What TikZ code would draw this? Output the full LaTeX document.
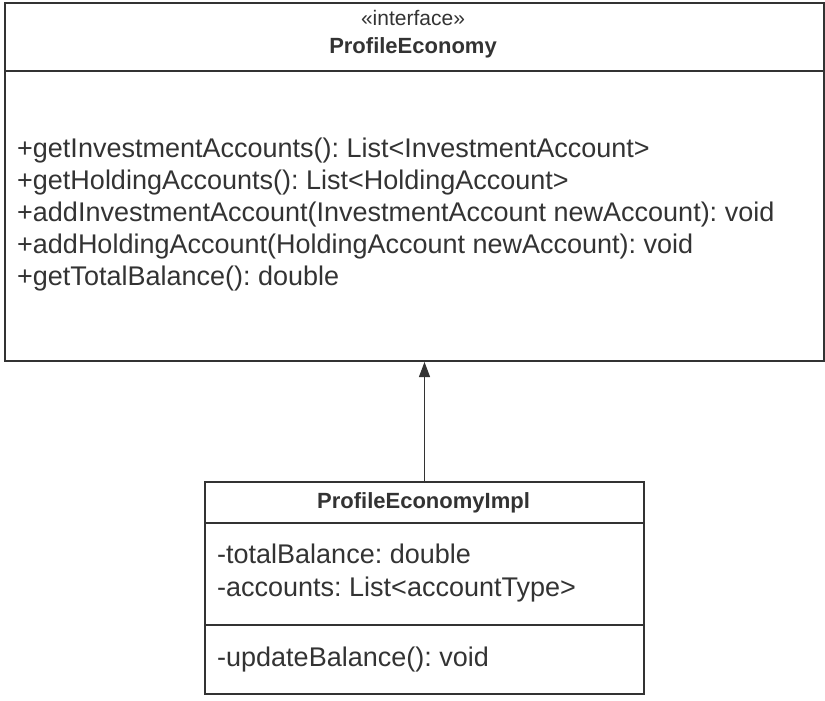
\documentclass[tikz,border=0pt]{standalone}
\usepackage{fontspec}
\setmainfont{Liberation Sans}
\usepackage{xcolor}
\usetikzlibrary{arrows.meta}
\frenchspacing

\definecolor{umlgray}{rgb}{0.2,0.2,0.2}

\begin{document}
\begin{tikzpicture}[x=1pt,y=1pt,yscale=-1,
    umlbox/.style={draw=umlgray,line width=2,inner sep=0,anchor=north west},
    member/.style={anchor=base west,inner sep=0,text=umlgray,font=\fontsize{27}{32}\selectfont},
    title/.style={anchor=base,inner sep=0,text=umlgray,font=\fontsize{22}{26}\selectfont}]
    \useasboundingbox (0,0) rectangle (825,701);

    %Shape: Rectangle [id:iface]
    \node [umlbox,minimum width=819,minimum height=358] (iface) at (4,2) {};
    \draw [color=umlgray,line width=2] (4,71) -- (823,71) ;
    %Shape: Rectangle [id:impl]
    \node [umlbox,minimum width=439,minimum height=212] (impl) at (204,481) {};
    \draw [color=umlgray,line width=2] (204,523) -- (643,523) ;
    \draw [color=umlgray,line width=2] (204,625) -- (643,625) ;

    %Straight Lines [id:realize]
    \draw [color=umlgray,line width=1,-{Triangle[length=15,width=11]}] (impl.north) -- (impl.north |- iface.south) ;

    % Text Node
    \node [title,font=\fontsize{21}{26}\selectfont] (stereo) at (413,26) {«interface»};
    % Text Node
    \node [title,font=\fontsize{22}{26}\selectfont\bfseries] (ifacename) at (413,54) {ProfileEconomy};
    % Text Node
    \node [member] (m1) at (17,157) {+getInvestmentAccounts(): List<InvestmentAccount>};
    \node [member] (m2) at (17,189) {+getHoldingAccounts(): List<HoldingAccount>};
    \node [member] (m3) at (17,221) {+addInvestmentAccount(InvestmentAccount newAccount): void};
    \node [member] (m4) at (17,253) {+addHoldingAccount(HoldingAccount newAccount): void};
    \node [member] (m5) at (17,285) {+getTotalBalance(): double};

    % Text Node
    \node [title,font=\fontsize{22}{26}\selectfont\bfseries] (implname) at (423.5,508) {ProfileEconomyImpl};
    % Text Node
    \node [member] (a1) at (217,563) {-totalBalance: double};
    \node [member] (a2) at (217,596) {-accounts: List<accountType>};
    % Text Node
    \node [member] (op1) at (217,666) {-updateBalance(): void};

\end{tikzpicture}
\end{document}
